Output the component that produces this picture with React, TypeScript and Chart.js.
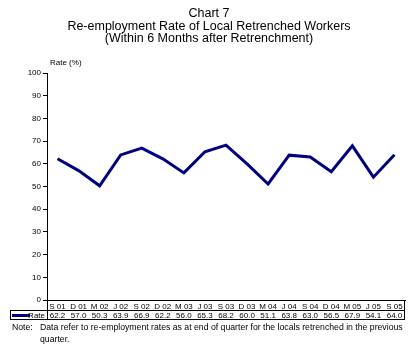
import React, { useEffect, useRef } from "react";
import { Chart, registerables } from "chart.js";

Chart.register(...registerables);

const titleLines = [
  "Chart 7",
  "Re-employment Rate of Local Retrenched Workers",
  "(Within 6 Months after Retrenchment)",
];
const yAxisTitle = "Rate (%)";
const seriesName = "Rate";
const categories = [
  "S 01", "D 01", "M 02", "J 02", "S 02", "D 02", "M 03", "J 03", "S 03",
  "D 03", "M 04", "J 04", "S 04", "D 04", "M 05", "J 05", "S 05",
];
const rates = [
  62.2, 57.0, 50.3, 63.9, 66.9, 62.2, 56.0, 65.3, 68.2, 60.0, 51.1, 63.8,
  63.0, 56.5, 67.9, 54.1, 64.0,
];
const noteLabel = "Note:";
const noteLines = [
  "Data refer to re-employment rates as at end of quarter for the locals retrenched in the previous",
  "quarter.",
];

const FONT = "Arial, 'Liberation Sans', sans-serif";
const LINE_COLOR = "#000080";

const decorPlugin = {
  id: "decor",
  afterDraw(chart: any) {
    const ctx = chart.ctx as CanvasRenderingContext2D;
    const area = chart.chartArea;
    const xs = chart.scales.x;
    ctx.save();
    // Title
    ctx.fillStyle = "#000";
    ctx.font = `12.5px ${FONT}`;
    ctx.textAlign = "center";
    ctx.textBaseline = "alphabetic";
    const titleY = [17, 30, 42];
    titleLines.forEach((t, i) => ctx.fillText(t, 209, titleY[i]));
    // Axis title
    ctx.font = `8px ${FONT}`;
    ctx.textAlign = "left";
    ctx.fillText(yAxisTitle, area.left + 3, area.top - 8);

    // Data table
    const row1Top = area.bottom;
    const row1Bot = area.bottom + 10;
    const row2Bot = area.bottom + 19;
    const tableLeft = 10;
    ctx.strokeStyle = "#000";
    ctx.lineWidth = 1;
    ctx.beginPath();
    ctx.moveTo(area.left + 0.5, row1Top);
    ctx.lineTo(area.left + 0.5, row2Bot + 0.5);
    ctx.moveTo(area.right - 0.5, row1Top);
    ctx.lineTo(area.right - 0.5, row2Bot + 0.5);
    ctx.moveTo(tableLeft + 0.5, row1Bot + 0.5);
    ctx.lineTo(tableLeft + 0.5, row2Bot + 0.5);
    ctx.moveTo(tableLeft, row1Bot + 0.5);
    ctx.lineTo(area.right, row1Bot + 0.5);
    ctx.moveTo(tableLeft, row2Bot + 0.5);
    ctx.lineTo(area.right, row2Bot + 0.5);
    ctx.stroke();

    // legend key
    const midRow2 = (row1Bot + row2Bot) / 2 + 1;
    ctx.strokeStyle = LINE_COLOR;
    ctx.lineWidth = 3;
    ctx.beginPath();
    ctx.moveTo(tableLeft + 2, midRow2);
    ctx.lineTo(tableLeft + 20, midRow2);
    ctx.stroke();
    ctx.fillStyle = "#000";
    ctx.font = `8px ${FONT}`;
    ctx.textAlign = "right";
    ctx.textBaseline = "middle";
    ctx.fillText(seriesName, area.left - 2, midRow2);

    // values
    ctx.textAlign = "center";
    rates.forEach((v, i) => {
      ctx.fillText(v.toFixed(1), xs.getPixelForValue(i), midRow2);
    });

    // Note
    ctx.font = `8.7px ${FONT}`;
    ctx.textAlign = "left";
    ctx.textBaseline = "alphabetic";
    ctx.fillText(noteLabel, 12, 330);
    ctx.fillText(noteLines[0], 40, 330);
    ctx.fillText(noteLines[1], 40, 342);
    ctx.restore();
  },
};

export default function App() {
  const ref = useRef<HTMLCanvasElement>(null);
  useEffect(() => {
    if (!ref.current) return;
    const chart = new Chart(ref.current, {
      type: "line",
      data: {
        labels: categories,
        datasets: [
          {
            label: seriesName,
            data: rates,
            borderColor: LINE_COLOR,
            backgroundColor: LINE_COLOR,
            borderWidth: 3,
            pointRadius: 0,
            tension: 0,
            fill: false,
          },
        ],
      },
      options: {
        animation: false,
        responsive: false,
        maintainAspectRatio: false,
        layout: { padding: { left: 0, right: 4, top: 73, bottom: 0 } },
        plugins: {
          legend: { display: false },
          title: { display: false },
          tooltip: { enabled: false },
        },
        scales: {
          x: {
            offset: true,
            grid: { display: false, drawTicks: false },
            border: { display: true, color: "#000", width: 1 },
            ticks: {
              color: "#000",
              font: { family: FONT, size: 8 },
              padding: 2,
              maxRotation: 0,
              autoSkip: false,
            },
            afterFit: (s: any) => {
              s.height = 55;
            },
          },
          y: {
            min: 0,
            max: 100,
            grid: {
              display: true,
              drawOnChartArea: false,
              drawTicks: true,
              tickLength: 4,
              color: "#000",
            },
            border: { display: true, color: "#000", width: 1 },
            ticks: {
              stepSize: 10,
              color: "#000",
              font: { family: FONT, size: 8 },
              padding: 2,
            },
            afterFit: (s: any) => {
              s.width = 47;
            },
          },
        },
      },
      plugins: [decorPlugin],
    });
    return () => chart.destroy();
  }, []);
  return (
    <div style={{ position: "absolute", left: 0, top: 0, width: 409, height: 355, background: "#fff" }}>
      <canvas ref={ref} width={409} height={355} style={{ display: "block" }} />
    </div>
  );
}
